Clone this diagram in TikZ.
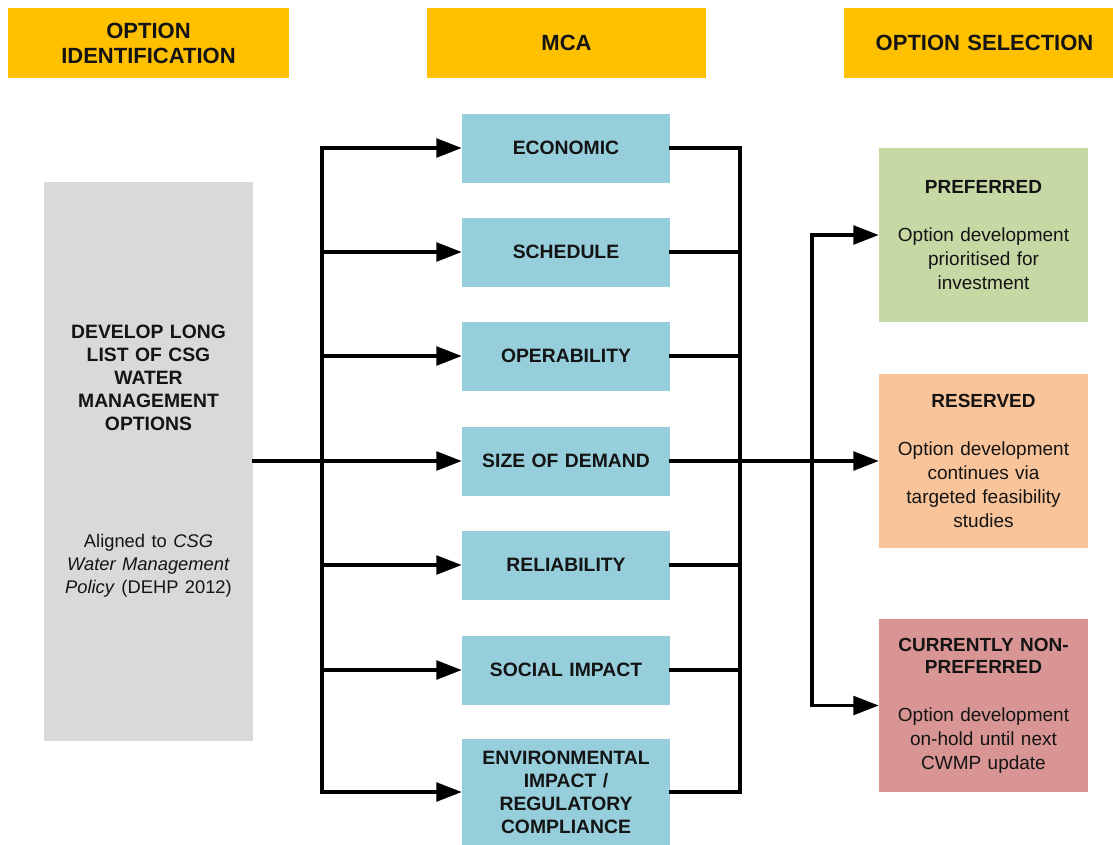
\documentclass[tikz,border=0pt]{standalone}
\usepackage{fontspec}
\setmainfont{Liberation Sans}
\usetikzlibrary{arrows.meta,positioning}

\definecolor{hdrorange}{HTML}{FFC000}
\definecolor{critblue}{HTML}{96CEDC}
\definecolor{listgrey}{HTML}{D9D9D9}
\definecolor{prefgreen}{HTML}{C6D8A4}
\definecolor{resvpeach}{HTML}{F9C49A}
\definecolor{nonpink}{HTML}{D99594}
\definecolor{textdark}{HTML}{141414}

\tikzset{
  header/.style={fill=hdrorange, text=textdark, minimum width=210.75pt, minimum height=52.5pt,
    text width=205pt, align=center, inner sep=0pt, font=\fontsize{16.5}{18.75}\selectfont\bfseries},
  crit/.style={fill=critblue, text=textdark, minimum width=156pt, minimum height=51.75pt,
    text width=150pt, align=center, inner sep=0pt, font=\fontsize{14.5}{17.25}\selectfont\bfseries},
  outcome/.style={text=textdark, minimum width=156.75pt, minimum height=130pt,
    text width=150pt, align=center, inner sep=0pt, font=\fontsize{14.25}{18}\selectfont},
  flow/.style={line width=2.5pt, line cap=rect, -{Triangle[length=19pt,width=14pt]}},
  flowboth/.style={line width=2.5pt, line cap=rect, {Triangle[length=19pt,width=14pt]}-{Triangle[length=19pt,width=14pt]}},
  bus/.style={line width=2.5pt, line cap=rect},
}

\begin{document}
\begin{tikzpicture}[x=0.75pt, y=-0.75pt]
    \useasboundingbox (0,0) rectangle (1113,844);

    % Column headers
    \node[header] (hdIdent) at (148.5,43) {OPTION\\IDENTIFICATION};
    \node[header, minimum width=209.25pt] (hdMCA) at (566.5,43) {MCA};
    \node[header] (hdSelect) at (984.5,43) {OPTION SELECTION};

    % Long list of options
    \node[fill=listgrey, text=textdark, minimum width=156.75pt, minimum height=419.25pt,
      text width=150pt, align=center, inner sep=0pt, font=\fontsize{14.5}{17.25}\selectfont]
      (longlist) at (148.5,461)
      {\textbf{DEVELOP LONG\\LIST OF CSG\\WATER\\MANAGEMENT\\OPTIONS}\\[71pt]
       {\fontsize{13.75}{17.25}\selectfont Aligned to \textit{CSG}\\\textit{Water Management}\\\textit{Policy} (DEHP 2012)}};

    % MCA criteria
    \node[crit] (econ) at (566,148) {ECONOMIC};
    \node[crit] (sched) at (566,252) {SCHEDULE};
    \node[crit] (oper) at (566,356) {OPERABILITY};
    \node[crit] (size) at (566,461) {SIZE OF DEMAND};
    \node[crit] (relia) at (566,565) {RELIABILITY};
    \node[crit] (social) at (566,670) {SOCIAL IMPACT};
    \node[crit, minimum height=79.5pt] (env) at (566,792) {ENVIRONMENTAL\\IMPACT /\\REGULATORY\\COMPLIANCE};

    % Selection outcomes
    \node[outcome, fill=prefgreen] (pref) at (983.5,235)
      {\textbf{PREFERRED}\\[18pt]Option development\\prioritised for\\investment};
    \node[outcome, fill=resvpeach] (resv) at (983.5,461)
      {\textbf{RESERVED}\\[18pt]Option development\\continues via\\targeted feasibility\\studies};
    \node[outcome, fill=nonpink] (nonpref) at (983.5,705.5)
      {\textbf{CURRENTLY NON-\\[-1.5pt]PREFERRED}\\[18pt]Option development\\on-hold until next\\CWMP update};

    % Bus lines
    \coordinate (busL) at (322,0);
    \coordinate (busR) at (740,0);
    \coordinate (split) at (812,461);

    % Feed the criteria from the left bus
    \draw[flow] (busL |- env.west) |- (econ.west);
    \draw[flow] (busL |- sched.west) -- (sched.west);
    \draw[flow] (busL |- oper.west) -- (oper.west);
    \draw[flow] (busL |- relia.west) -- (relia.west);
    \draw[flow] (busL |- social.west) -- (social.west);
    \draw[flow] (busL |- env.west) -- (env.west);
    \draw[flow] (longlist) -- (size);

    % Collect the criteria on the right bus
    \draw[bus] (econ.east) -| (busR |- env.east) -- (env.east);
    \draw[bus] (sched.east) -- (sched.east -| busR);
    \draw[bus] (oper.east) -- (oper.east -| busR);
    \draw[bus] (relia.east) -- (relia.east -| busR);
    \draw[bus] (social.east) -- (social.east -| busR);

    % On to the selection
    \draw[flow] (size) -- (resv);
    \draw[flowboth] (pref.west) -| (split) |- (nonpref.west);
\end{tikzpicture}
\end{document}
